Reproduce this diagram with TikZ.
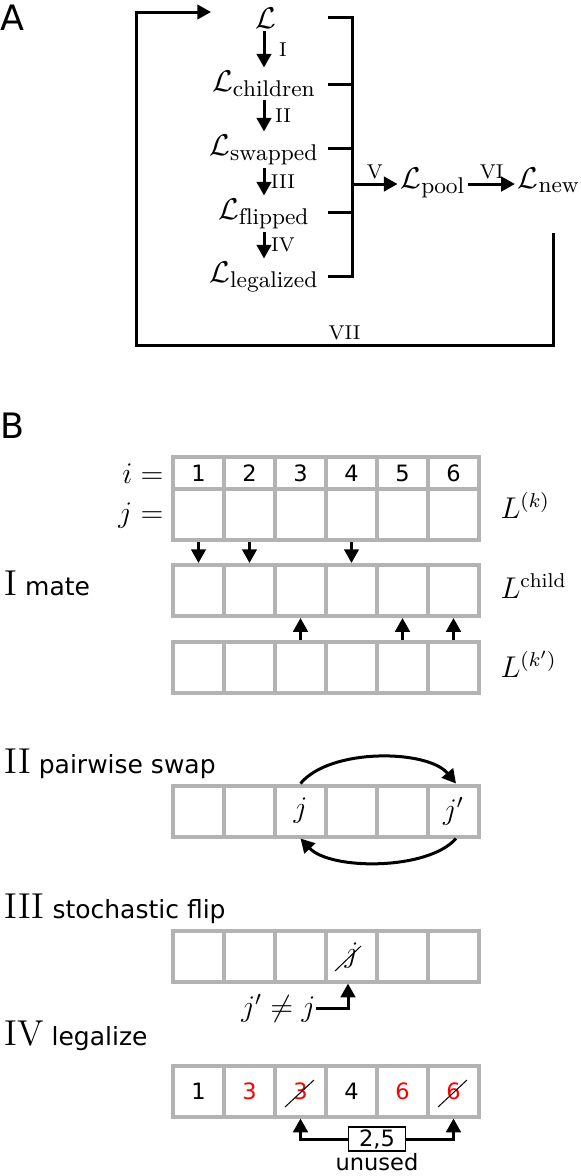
\documentclass[tikz,border=0pt]{standalone}
\usepackage{fontspec}
\setsansfont{DejaVu Sans}
\usepackage{tikz}
\usetikzlibrary{arrows.meta, positioning}
\definecolor{cellgray}{RGB}{179,179,179}
\tikzstyle{arrow} = [line width=1.2pt,->,>={Triangle[length=5.5pt, width=5.8pt]}]
\tikzstyle{line} = [line width=1.2pt]
\tikzstyle{set} = [font=\fontsize{13}{15}\selectfont, inner sep=1pt, anchor=base]
\tikzstyle{numeral} = [font=\footnotesize, inner sep=1.5pt]
\tikzstyle{title} = [anchor=base west, inner sep=0pt, font=\sffamily]
\tikzstyle{panel} = [anchor=base west, inner sep=0pt, font=\sffamily\fontsize{14}{17}\selectfont]
\tikzstyle{cell} = [rectangle, draw=cellgray, line width=1.6pt, minimum width=20.4pt, minimum height=20.4pt, inner sep=0pt, font=\sffamily\small]
\tikzstyle{head} = [cell, minimum height=12.8pt]
\tikzstyle{side} = [inner sep=0pt, font=\large]
\newcommand{\stepnum}[1]{{\rmfamily\fontsize{14.4}{17}\selectfont #1}}

\begin{document}
\begin{tikzpicture}[x=0.4pt, y=-0.4pt]
        \useasboundingbox (0,0) rectangle (581,1176);

        % Panel A
        \node (labA) [panel] at (0,30) {A};
        \node (L0) [set] at (266,28) {$\mathcal{L}$};
        \node (L1) [set] at (264,91) {$\mathcal{L}_{\mathrm{children}}$};
        \node (L2) [set] at (264,155) {$\mathcal{L}_{\mathrm{swapped}}$};
        \node (L3) [set] at (264,219) {$\mathcal{L}_{\mathrm{flipped}}$};
        \node (L4) [set] at (264,282) {$\mathcal{L}_{\mathrm{legalized}}$};
        \node (pool) [set] at (433,188) {$\mathcal{L}_{\mathrm{pool}}$};
        \node (new) [set] at (549,188) {$\mathcal{L}_{\mathrm{new}}$};
        \coordinate (tick) at (328,0);
        \coordinate (br) at (352,184);
        \coordinate (exit) at (553,233);
        \coordinate (back) at (136,345);
        \coordinate (entry) at (211,12);

        % Steps I-IV
        \draw [arrow] (L0.south -| L1) -- node[numeral, xshift=7.6pt] {I} (L1);
        \draw [arrow] (L1) -- node[numeral, xshift=7.6pt] {II} (L2);
        \draw [arrow] (L2) -- node[numeral, xshift=7.6pt] {III} (L3);
        \draw [arrow] (L3) -- node[numeral, xshift=7.6pt] {IV} (L4);

        % Bracket and pool
        \draw [line] ([yshift=4.4pt]L0.base -| tick) -| ([yshift=2.4pt]L4.base -| br) -- ([yshift=2.4pt]L4.base -| tick);
        \foreach \n in {L1,L2,L3}
            \draw [line] ([yshift=2.6pt]\n.base -| tick) -- ([yshift=2.6pt]\n.base -| br);
        \draw [arrow] (br) -- node[numeral, above] {V} (br -| pool.west);
        \draw [arrow] (pool.east |- br) -- node[numeral, above] {VI} (br -| new.west);
        \draw [arrow] (exit) |- node[numeral, pos=0.75, above] {VII} (back) |- (entry);

        % Panel B
        \node (labB) [panel] at (0,438) {B};
        \foreach \i in {1,...,6} {
            \node (h\i) [head] at ({147.5+51*\i},473) {\i};
            \node (k\i) [cell] at ({147.5+51*\i},514.5) {};
            \node (c\i) [cell] at ({147.5+51*\i},590.5) {};
            \node (p\i) [cell] at ({147.5+51*\i},667.5) {};
        }
        \node (ieq) [side, anchor=base east] at (164,483) {$i=$};
        \node (jeq) [side, anchor=base east] at (164,522) {$j=$};
        \node (Lk) [side, anchor=base west] at (500,518) {$L^{(k)}$};
        \node (Lc) [side, anchor=base west] at (500,598) {$L^{\mathrm{child}}$};
        \node (Lp) [side, anchor=base west] at (500,677) {$L^{(k')}$};
        \node (tI) [title] at (4,595) {\stepnum{I} mate};
        \foreach \i in {1,2,4}
            \draw [arrow] (k\i) -- (c\i);
        \foreach \i in {3,5,6}
            \draw [arrow] (p\i) -- (c\i);

        % Swap
        \node (tII) [title] at (4,773) {\stepnum{II} pairwise swap};
        \foreach \i/\t in {1/{},2/{},3/{$j$},4/{},5/{},6/{$j'$}}
            \node (s\i) [cell, font=\large] at ({147.5+51*\i},811) {\t};
        \draw [arrow] (s3.north) .. controls +(30,-36) and +(-28,-34) .. ([xshift=1pt]s6.north);
        \draw [arrow] ([xshift=1pt]s6.south) .. controls +(-28,32) and +(30,32) .. (s3.south);

        % Flip
        \node (tIII) [title] at (4,918) {\stepnum{III} stochastic flip};
        \foreach \i/\t in {1/{},2/{},3/{},4/{$j$},5/{},6/{}}
            \node (f\i) [cell, font=\large] at ({147.5+51*\i},956) {\t};
        \draw [thin] ([shift={(-16.5,15)}]f4.center) -- ([shift={(9.5,-10)}]f4.center);
        \node (neq) [side, anchor=east] at (316,1008) {$j'\neq j$};
        \draw [arrow] (neq.east) -| ([xshift=-1.4pt]f4.south);

        % Legalize
        \node (tIV) [title] at (4,1045) {\stepnum{IV} legalize};
        \foreach \i/\t in {1/1,2/{\color{red}3},3/{\color{red}3},4/4,5/{\color{red}6},6/{\color{red}6}}
            \node (g\i) [cell] at ({147.5+51*\i},1091) {\t};
        \draw [thin] ([shift={(-15.5,16)}]g3.center) -- ([shift={(13.5,-11)}]g3.center);
        \draw [thin] ([shift={(-15.5,16)}]g6.center) -- ([shift={(13.5,-11)}]g6.center);
        \node (free) [draw, line width=0.6pt, inner sep=1pt, minimum width=22.8pt, minimum height=8.8pt, font=\sffamily\small] at (377,1139) {2,5};
        \node (note) [below=0.5pt of free, inner sep=0pt, font=\sffamily\small] {unused};
        \draw [arrow] (free.west) -| (g3.south);
        \draw [arrow] (free.east) -| (g6.south);
    \end{tikzpicture}
\end{document}
